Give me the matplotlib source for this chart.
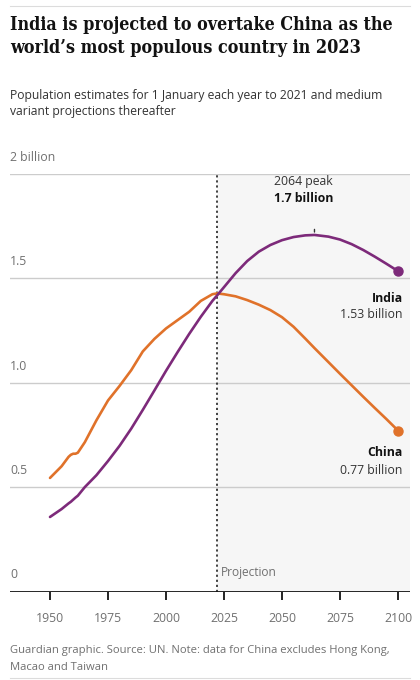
import matplotlib
matplotlib.use("Agg")
import matplotlib.pyplot as plt
from matplotlib import font_manager

# ---- data (billions) ----
years = [1950, 1955, 1958, 1959, 1960, 1961, 1962, 1965, 1970, 1975, 1980, 1985, 1990,
         1995, 2000, 2005, 2010, 2015, 2020, 2022, 2025, 2030, 2035, 2040, 2045,
         2050, 2055, 2060, 2064, 2070, 2075, 2080, 2085, 2090, 2095, 2100]
china = [0.544, 0.600, 0.645, 0.655, 0.660, 0.660, 0.665, 0.715, 0.820, 0.915, 0.985,
         1.060, 1.150, 1.210, 1.260, 1.300, 1.340, 1.392, 1.424, 1.428, 1.424, 1.414,
         1.396, 1.374, 1.348, 1.314, 1.268, 1.212, 1.166, 1.099, 1.043, 0.988,
         0.933, 0.879, 0.826, 0.771]
india = [0.357, 0.395, 0.422, 0.430, 0.440, 0.450, 0.459, 0.500, 0.557, 0.625, 0.698,
         0.780, 0.870, 0.963, 1.057, 1.147, 1.234, 1.316, 1.392, 1.418, 1.458, 1.525,
         1.583, 1.628, 1.660, 1.683, 1.698, 1.706, 1.708, 1.700, 1.686, 1.664,
         1.636, 1.604, 1.570, 1.535]

peak_year, peak_val = 2064, 1.70
proj_start = 2022
ytick_vals = [0, 0.5, 1.0, 1.5, 2.0]
ytick_labels = ["0", "0.5", "1.0", "1.5", "2 billion"]
xtick_vals = [1950, 1975, 2000, 2025, 2050, 2075, 2100]
india_label = "1.53 billion"
china_label = "0.77 billion"

PURPLE = "#7d2a7a"
ORANGE = "#e0722a"
GREY_TXT = "#707070"
DARK = "#121212"

fig = plt.figure(figsize=(4.2, 6.8), dpi=100)
W, H = 420, 680

def fx(px):
    return px / W

def fy(py):
    return 1 - py / H

# rules
fig.add_artist(plt.Line2D([fx(10), fx(410)], [fy(6), fy(6)], color="#dcdcdc", lw=0.8))
fig.add_artist(plt.Line2D([fx(10), fx(410)], [fy(678), fy(678)], color="#dcdcdc", lw=0.8))

cond = any(("Condensed" in f.fname) and ("Serif" in f.fname) and ("Bold" in f.fname)
           for f in font_manager.fontManager.ttflist)
title_size = 12.9 if cond else 11.75
title_kw = dict(fontsize=title_size, fontweight="bold", family=["DejaVu Serif"],
                color=DARK, va="center")
if cond:
    title_kw["fontstretch"] = "condensed"
fig.text(fx(10), fy(25), "India is projected to overtake China as the", **title_kw)
fig.text(fx(10), fy(48), "world\u2019s most populous country in 2023", **title_kw)

sub_font = ["Open Sans", "DejaVu Sans"]
fig.text(fx(10), fy(95), "Population estimates for 1 January each year to 2021 and medium",
         fontsize=8.7, family=sub_font, color="#333333", va="center")
fig.text(fx(10), fy(112), "variant projections thereafter",
         fontsize=8.7, family=sub_font, color="#333333", va="center")

fig.text(fx(10), fy(651), "Guardian graphic. Source: UN. Note: data for China excludes Hong Kong,",
         fontsize=8.15, family=sub_font, color=GREY_TXT, va="center")
fig.text(fx(10), fy(667), "Macao and Taiwan",
         fontsize=8.15, family=sub_font, color=GREY_TXT, va="center")

# axes
ax_left, ax_right, ax_top, ax_bottom = 10, 410, 174, 591.5
ax = fig.add_axes([fx(ax_left), fy(ax_bottom), (ax_right - ax_left) / W,
                   (ax_bottom - ax_top) / H])
x_per_px = 150 / 348.0
ax.set_xlim(1950 - 40 * x_per_px, 2100 + 12 * x_per_px)
ax.set_ylim(0, 2.0)
for s in ax.spines.values():
    s.set_visible(False)
ax.set_facecolor("none")

# shading
ax.axvspan(proj_start, ax.get_xlim()[1], color="#f6f6f6", zorder=0, lw=0)

# gridlines
for v in ytick_vals[1:]:
    ax.axhline(v, color="#cccccc", lw=1.0, zorder=1)
ax.axhline(0, color=DARK, lw=2.0, zorder=4)

ax.set_yticks([])
ax.set_xticks(xtick_vals)
ax.set_xticklabels([str(v) for v in xtick_vals], family=sub_font, fontsize=8.8,
                   color=GREY_TXT)
ax.tick_params(axis="x", length=6, width=1.3, color=DARK, pad=9)

for v, lab in zip(ytick_vals, ytick_labels):
    ax.annotate(lab, xy=(ax.get_xlim()[0], v), xytext=(0, 12), textcoords="offset points",
                ha="left", va="center", fontsize=8.8, family=sub_font, color=GREY_TXT)

# projection line
ax.axvline(proj_start, color="#333333", lw=1.3, ls=(0, (1.2, 1.6)), zorder=3)
ax.annotate("Projection", xy=(proj_start, 0), xytext=(3, 14), textcoords="offset points",
            ha="left", va="center", fontsize=8.6, family=sub_font, color=GREY_TXT)

# lines
ax.plot(years, china, color=ORANGE, lw=1.9, zorder=5, solid_capstyle="round",
        solid_joinstyle="round")
ax.plot(years, india, color=PURPLE, lw=1.9, zorder=5, solid_capstyle="round",
        solid_joinstyle="round")
ax.plot([years[-1]], [china[-1]], "o", color=ORANGE, ms=6.5, zorder=6)
ax.plot([years[-1]], [india[-1]], "o", color=PURPLE, ms=6.5, zorder=6)

# peak annotation
ax.annotate("", xy=(peak_year, peak_val + 0.022), xytext=(peak_year, peak_val + 0.048),
            arrowprops=dict(arrowstyle="-", color="#333333", lw=1.0))
ax.annotate("2064 peak", xy=(peak_year, peak_val), xytext=(-8, 40),
            textcoords="offset points", ha="center", va="center", fontsize=8.8,
            family=sub_font, color="#333333")
ax.annotate("1.7 billion", xy=(peak_year, peak_val), xytext=(-8, 27.5),
            textcoords="offset points", ha="center", va="center", fontsize=8.8,
            fontweight="bold", family=sub_font, color=DARK)

# end labels
ax.annotate("India", xy=(years[-1], india[-1]), xytext=(3.5, -19.5),
            textcoords="offset points", ha="right", va="center", fontsize=8.8,
            fontweight="bold", family=sub_font, color=DARK)
ax.annotate(india_label, xy=(years[-1], india[-1]), xytext=(3.5, -31),
            textcoords="offset points", ha="right", va="center", fontsize=8.8,
            family=sub_font, color="#333333")
ax.annotate("China", xy=(years[-1], china[-1]), xytext=(3.5, -16),
            textcoords="offset points", ha="right", va="center", fontsize=8.8,
            fontweight="bold", family=sub_font, color=DARK)
ax.annotate(china_label, xy=(years[-1], china[-1]), xytext=(3.5, -28.5),
            textcoords="offset points", ha="right", va="center", fontsize=8.8,
            family=sub_font, color="#333333")

fig.savefig("out.png", dpi=100, facecolor="white")
